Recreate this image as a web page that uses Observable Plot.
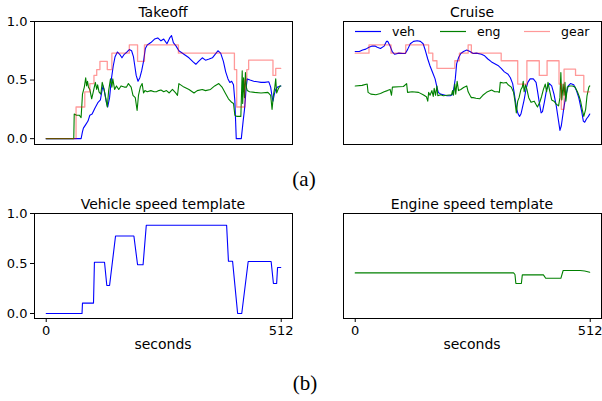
<!DOCTYPE html>
<html>
<head>
<meta charset="utf-8">
<script src="https://cdn.jsdelivr.net/npm/d3@7"></script>
<script src="https://cdn.jsdelivr.net/npm/@observablehq/plot@0.6"></script>
<style>
  body { margin: 0; background: #fff; }
  #wrap { position: relative; width: 602px; height: 401px; overflow: hidden; background: #fff; }
  .p { position: absolute; }
  #overlay { position: absolute; left: 0; top: 0; pointer-events: none; }
</style>
</head>
<body>
<div id="wrap"></div>
<script>
// ---------------- DATA (time step, normalised value) ----------------
const takeoffVeh = [
  [0,0],[76,0],[79,0.06],[81,0.09],[86,0.12],[91,0.15],[95,0.20],[100,0.21],[106,0.26],[113,0.31],[118,0.33],[122,0.42],[124,0.45],[127,0.40],[131,0.31],[134,0.27],[138,0.35],[142,0.51],[146,0.62],[150,0.70],[155,0.74],[160,0.72],[165,0.69],[170,0.72],[176,0.74],[181,0.76],[186,0.75],[190,0.70],[193,0.62],[196,0.54],[200,0.49],[204,0.52],[208,0.58],[212,0.66],[216,0.77],[220,0.80],[228,0.82],[236,0.85],[243,0.86],[250,0.835],[256,0.85],[263,0.81],[269,0.86],[273,0.88],[277,0.82],[283,0.79],[289,0.75],[300,0.72],[311,0.69],[320,0.655],[326,0.635],[332,0.66],[340,0.69],[347,0.67],[355,0.68],[362,0.69],[368,0.72],[374,0.75],[380,0.73],[386,0.66],[391,0.57],[396,0.51],[400,0.48],[404,0.49],[408,0.46],[411,0.32],[414,0],[425,0],[429,0.15],[432,0.25],[436,0.45],[438,0.51],[444,0.50],[452,0.49],[460,0.485],[468,0.48],[476,0.48],[485,0.485],[489,0.44],[492,0.36],[494,0.32],[497,0.38],[500,0.42],[504,0.44],[511,0.45]
];
const takeoffEng = [
  [0,0],[60,0],[61,0.21],[66,0.20],[72,0.20],[76,0.18],[79,0.38],[83,0.44],[86,0.52],[88,0.45],[90,0.49],[92,0.44],[95,0.42],[99,0.34],[102,0.39],[107,0.48],[110,0.42],[112,0.46],[115,0.40],[119,0.38],[122,0.48],[126,0.42],[130,0.34],[133,0.27],[136,0.41],[140,0.51],[143,0.44],[145,0.51],[149,0.42],[153,0.45],[158,0.42],[163,0.45],[170,0.44],[175,0.44],[179,0.47],[185,0.44],[189,0.37],[194,0.35],[198,0.24],[201,0.37],[205,0.44],[209,0.47],[212,0.39],[215,0.41],[220,0.40],[228,0.41],[235,0.40],[240,0.40],[245,0.41],[250,0.415],[256,0.40],[262,0.41],[268,0.39],[275,0.42],[282,0.39],[286,0.37],[289,0.47],[300,0.44],[311,0.42],[322,0.39],[329,0.41],[340,0.42],[347,0.41],[358,0.42],[367,0.45],[376,0.47],[383,0.44],[390,0.39],[397,0.34],[404,0.31],[408,0.30],[411,0.20],[415,0.19],[424,0.19],[426,0.45],[427,0.58],[428,0.30],[430,0.52],[432,0.35],[434,0.565],[436,0.44],[438,0.41],[443,0.40],[454,0.395],[468,0.39],[483,0.395],[489,0.37],[492,0.25],[495,0.37],[498,0.44],[500,0.51],[502,0.39],[505,0.42],[509,0.45],[511,0.45]
];
const takeoffGear = [
  [0,0],[65,0.27],[84,0.40],[95,0.47],[104,0.54],[110,0.59],[117,0.66],[133,0.59],[143,0.73],[181,0.80],[199,0.66],[214,0.80],[288,0.73],[410,0.59],[415,0.27],[433,0.50],[437,0.59],[441,0.67],[494,0.54],[500,0.60],[511,0.60]
];
const cruiseVeh = [
  [0,0.744],[9,0.744],[16,0.756],[23,0.764],[30,0.78],[37,0.79],[43,0.79],[48,0.78],[55,0.77],[63,0.79],[68,0.83],[71,0.83],[76,0.79],[81,0.74],[86,0.72],[95,0.73],[104,0.727],[109,0.727],[114,0.76],[120,0.81],[127,0.83],[135,0.835],[142,0.83],[148,0.81],[153,0.75],[158,0.68],[163,0.62],[169,0.56],[174,0.51],[178,0.44],[181,0.395],[186,0.38],[192,0.375],[200,0.366],[207,0.366],[211,0.375],[214,0.41],[218,0.51],[221,0.64],[225,0.69],[230,0.727],[236,0.744],[243,0.756],[250,0.744],[257,0.727],[264,0.73],[275,0.72],[282,0.707],[289,0.68],[297,0.655],[304,0.64],[311,0.625],[318,0.60],[325,0.57],[333,0.55],[338,0.52],[343,0.47],[346,0.40],[349,0.32],[352,0.25],[355,0.21],[358,0.19],[361,0.21],[364,0.26],[368,0.33],[372,0.42],[376,0.48],[381,0.51],[388,0.51],[394,0.48],[397,0.41],[401,0.31],[405,0.22],[408,0.23],[412,0.31],[417,0.42],[423,0.47],[428,0.45],[433,0.38],[438,0.28],[443,0.15],[446,0.07],[449,0.11],[454,0.25],[459,0.37],[464,0.45],[469,0.47],[476,0.46],[482,0.41],[487,0.35],[493,0.24],[497,0.15],[500,0.14],[504,0.17],[508,0.19],[511,0.21]
];
const cruiseEng = [
  [0,0.45],[15,0.455],[26,0.466],[28,0.395],[34,0.38],[45,0.375],[55,0.386],[63,0.40],[70,0.41],[76,0.42],[79,0.37],[81,0.44],[95,0.443],[105,0.445],[112,0.47],[114,0.395],[124,0.40],[138,0.395],[148,0.375],[155,0.358],[158,0.32],[160,0.395],[163,0.37],[167,0.41],[170,0.36],[172,0.43],[175,0.37],[178,0.45],[180,0.366],[186,0.375],[192,0.366],[200,0.37],[210,0.375],[212,0.41],[214,0.37],[217,0.466],[219,0.38],[222,0.49],[225,0.41],[230,0.42],[236,0.437],[243,0.45],[246,0.40],[250,0.37],[253,0.35],[257,0.35],[263,0.345],[271,0.34],[278,0.37],[286,0.395],[297,0.415],[304,0.40],[311,0.40],[314,0.395],[316,0.48],[323,0.475],[329,0.48],[333,0.46],[340,0.44],[345,0.395],[348,0.32],[351,0.22],[354,0.32],[357,0.35],[361,0.42],[364,0.44],[366,0.49],[368,0.40],[371,0.46],[374,0.42],[378,0.35],[383,0.31],[390,0.32],[397,0.27],[402,0.31],[406,0.36],[410,0.42],[414,0.466],[417,0.40],[420,0.48],[423,0.42],[428,0.33],[433,0.32],[438,0.295],[443,0.28],[446,0.35],[448,0.565],[450,0.33],[453,0.466],[455,0.37],[457,0.48],[459,0.32],[462,0.44],[467,0.45],[473,0.45],[479,0.44],[484,0.40],[488,0.36],[491,0.32],[494.5,0.25],[498,0.19],[502,0.25],[505,0.366],[509,0.44],[511,0.45]
];
const cruiseGear = [
  [0,0.73],[30,0.80],[78,0.73],[110,0.80],[160,0.73],[169,0.665],[178,0.60],[217,0.665],[227,0.73],[246,0.80],[253,0.73],[318,0.665],[354,0.466],[374,0.665],[401,0.54],[418,0.665],[444,0.466],[449,0.25],[455,0.594],[480,0.54],[498,0.40],[511,0.40]
];
const vehTemplate = [
  [0,0],[78,0],[79,0.104],[103,0.104],[105,0.513],[127,0.513],[132,0.28],[138,0.28],[151,0.775],[191,0.775],[199,0.487],[211,0.487],[218,0.883],[393,0.883],[397,0.523],[406,0.523],[417,0],[426,0],[440,0.52],[490,0.52],[495,0.30],[502,0.30],[504,0.46],[511,0.46]
];
const engTemplate = [
  [0,0.406],[345,0.406],[348,0.39],[350,0.30],[362,0.30],[364,0.386],[410,0.386],[415,0.352],[448,0.352],[453,0.43],[490,0.43],[500,0.425],[511,0.413]
];
const yTicks = [0, 0.5, 1.0];
const xTicks = [0, 512];
const seriesNames = ["veh", "eng", "gear"];
const panelTitles = ["Takeoff", "Cruise", "Vehicle speed template", "Engine speed template"];
const xLabel = "seconds";
const subLabels = ["(a)", "(b)"];

// ---------------- DRAWING ----------------
const COL = { veh: "#0000ff", eng: "#008000", gear: "#ff0000" };
const xDom = [-25.55, 536.55];
const yDom = [-0.05, 1.0];
const wrap = document.getElementById("wrap");

function lineMarks(veh, eng, gear) {
  const m = [];
  if (veh) m.push(Plot.line(veh, { x: d => d[0], y: d => d[1], stroke: COL.veh, strokeWidth: 1.1 }));
  if (eng) m.push(Plot.line(eng, { x: d => d[0], y: d => d[1], stroke: COL.eng, strokeWidth: 1.1 }));
  if (gear) m.push(Plot.line(gear, { x: d => d[0], y: d => d[1], stroke: COL.gear, strokeOpacity: 0.4, strokeWidth: 1.3, curve: "step-after" }));
  return m;
}

function panel({ left, top, width, height, mL, mR, mT, mB, showY, showX, marks }) {
  const svg = Plot.plot({
    width, height,
    marginLeft: mL, marginRight: mR, marginTop: mT, marginBottom: mB,
    x: showX ? { domain: xDom, ticks: xTicks, tickFormat: d3.format("d"), tickSize: 4, tickPadding: 3, label: null }
             : { domain: xDom, axis: null },
    y: showY ? { domain: yDom, ticks: yTicks, tickFormat: d3.format(".1f"), tickSize: 4, tickPadding: 3, label: null }
             : { domain: yDom, axis: null },
    style: { fontFamily: "DejaVu Sans", fontSize: "13px", color: "#000", background: "transparent", overflow: "visible" },
    marks: [...marks, Plot.frame({ stroke: "#000", strokeWidth: 1 })]
  });
  const div = document.createElement("div");
  div.className = "p";
  div.style.left = left + "px";
  div.style.top = top + "px";
  div.appendChild(svg);
  wrap.appendChild(div);
}

panel({ left: 0, top: 0, width: 300, height: 152, mL: 34, mR: 8, mT: 21, mB: 8, showY: true, showX: false,
        marks: lineMarks(takeoffVeh, takeoffEng, takeoffGear) });
panel({ left: 300, top: 0, width: 302, height: 152, mL: 43, mR: 1, mT: 21, mB: 8, showY: false, showX: false,
        marks: lineMarks(cruiseVeh, cruiseEng, cruiseGear) });
panel({ left: 0, top: 190, width: 300, height: 150, mL: 34, mR: 8, mT: 23, mB: 22, showY: true, showX: true,
        marks: lineMarks(vehTemplate, null, null) });
panel({ left: 300, top: 190, width: 302, height: 150, mL: 43, mR: 1, mT: 23, mB: 22, showY: false, showX: true,
        marks: lineMarks(null, engTemplate, null) });

// ---------------- TEXT OVERLAY ----------------
const NS = "http://www.w3.org/2000/svg";
const ov = document.createElementNS(NS, "svg");
ov.setAttribute("id", "overlay");
ov.setAttribute("width", 602);
ov.setAttribute("height", 401);
wrap.appendChild(ov);
function txt(s, x, y, opts = {}) {
  const t = document.createElementNS(NS, "text");
  t.textContent = s;
  t.setAttribute("x", x);
  t.setAttribute("y", y);
  t.setAttribute("text-anchor", opts.anchor || "middle");
  t.setAttribute("font-family", opts.family || "DejaVu Sans");
  t.setAttribute("font-size", opts.size || 14);
  t.setAttribute("fill", "#000");
  ov.appendChild(t);
}
function seg(x1, x2, y, color, op) {
  const l = document.createElementNS(NS, "line");
  l.setAttribute("x1", x1); l.setAttribute("x2", x2);
  l.setAttribute("y1", y); l.setAttribute("y2", y);
  l.setAttribute("stroke", color);
  l.setAttribute("stroke-width", 1.2);
  if (op) l.setAttribute("stroke-opacity", op);
  ov.appendChild(l);
}
txt(panelTitles[0], 163, 17);
txt(panelTitles[1], 472, 17);
txt(panelTitles[2], 163, 209);
txt(panelTitles[3], 472, 209);
txt(xLabel, 163, 349);
txt(xLabel, 472, 349);
txt(subLabels[0], 304, 186, { family: "Liberation Serif", size: 21 });
txt(subLabels[1], 305, 390, { family: "Liberation Serif", size: 21 });
// legend (Cruise panel)
const legX = [355, 440, 524];
const legCol = [COL.veh, COL.eng, COL.gear];
const legOp = [null, null, 0.4];
seriesNames.forEach((n, i) => {
  seg(legX[i], legX[i] + 26, 31.5, legCol[i], legOp[i]);
  txt(n, legX[i] + 37, 35.5, { anchor: "start", size: 12.5 });
});
</script>
</body>
</html>
